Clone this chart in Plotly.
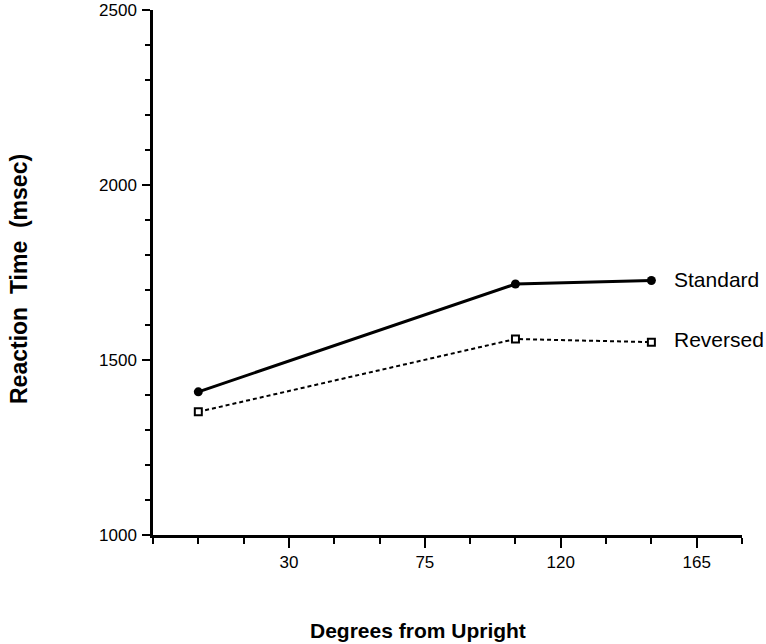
import plotly.graph_objects as go

degrees = [0, 105, 150]
standard = [1409, 1717, 1727]
reversed_ = [1352, 1560, 1551]
x_ticks = [30, 75, 120, 165]
y_ticks = [1000, 1500, 2000, 2500]

FONT = "Liberation Sans, Arial, Helvetica, sans-serif"
W, H = 766, 644
L, R, T, B = 153, 24, 10, 109
PW, PH = W - L - R, H - T - B


def px_to_paper(px, py):
    return (px - L) / PW, 1 - (py - T) / PH


fig = go.Figure()
fig.add_trace(go.Scatter(
    x=degrees, y=reversed_, mode="lines+markers", name="Reversed",
    line=dict(color="black", width=2, dash="4px,3px"),
    marker=dict(symbol="square", size=7, color="white", line=dict(width=2, color="black")),
))
fig.add_trace(go.Scatter(
    x=degrees, y=standard, mode="lines+markers", name="Standard",
    line=dict(color="black", width=3),
    marker=dict(symbol="circle", size=9, color="black"),
))

fig.add_annotation(x=degrees[-1], y=standard[-1], text="Standard", xref="x", yref="y",
                   showarrow=False, xanchor="left", xshift=21, yshift=1,
                   font=dict(family=FONT, size=21, color="black"))
fig.add_annotation(x=degrees[-1], y=reversed_[-1], text="Reversed", xref="x", yref="y",
                   showarrow=False, xanchor="left", xshift=21, yshift=3,
                   font=dict(family=FONT, size=21, color="black"))

xt, yt = px_to_paper(418, 630)
fig.add_annotation(x=xt, y=yt, xref="paper", yref="paper", text="<b>Degrees from Upright</b>",
                   showarrow=False, xanchor="center", yanchor="middle",
                   font=dict(family=FONT, size=21, color="black"))

xt, yt = px_to_paper(19, 279)
fig.add_annotation(x=xt, y=yt, xref="paper", yref="paper", text="<b>Reaction  Time  (msec)</b>",
                   textangle=-90, showarrow=False, xanchor="center", yanchor="middle",
                   font=dict(family=FONT, size=23, color="black"))

fig.update_layout(
    width=W, height=H,
    margin=dict(l=L, r=R, t=T, b=B, autoexpand=False),
    paper_bgcolor="white", plot_bgcolor="white",
    showlegend=False,
    font=dict(family=FONT, size=17, color="black"),
    xaxis=dict(
        range=[-15, 180], tickvals=x_ticks, ticktext=[str(v) for v in x_ticks],
        showgrid=False, zeroline=False, showline=True, linecolor="black", linewidth=2.5,
        ticks="outside", ticklen=10, tickwidth=2, tickcolor="black",
        tickfont=dict(family=FONT, size=17), automargin=False, ticklabelstandoff=0,
        ticklabeloverflow="allow",
        minor=dict(tick0=0, dtick=15, ticks="outside", ticklen=6, tickwidth=2, tickcolor="black", showgrid=False),
    ),
    yaxis=dict(
        range=[1000, 2500], tickvals=y_ticks, ticktext=[str(v) for v in y_ticks],
        showgrid=False, zeroline=False, showline=True, linecolor="black", linewidth=2.5,
        ticks="outside", ticklen=8, tickwidth=2, tickcolor="black",
        tickfont=dict(family=FONT, size=17), automargin=False, ticklabelstandoff=2,
        ticklabeloverflow="allow",
        minor=dict(tick0=1000, dtick=100, ticks="outside", ticklen=5, tickwidth=2, tickcolor="black", showgrid=False),
    ),
)

fig.write_html("out.html", config={"displayModeBar": False},
               post_script="document.body.style.margin='0';document.body.style.overflow='hidden';")
